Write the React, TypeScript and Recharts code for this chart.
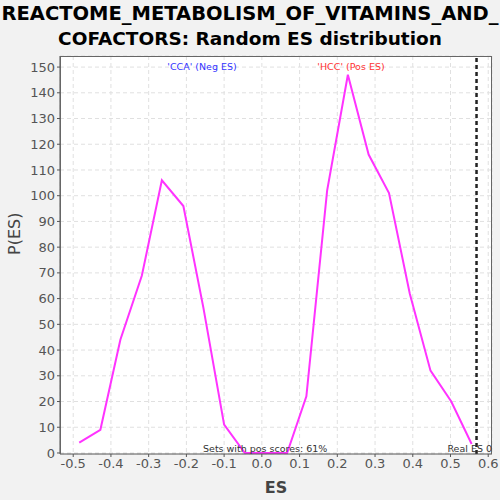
import React from "react";
import { LineChart, Line, XAxis, YAxis, CartesianGrid, ReferenceLine } from "recharts";

const esValues = [-0.484, -0.428, -0.375, -0.318, -0.265, -0.208, -0.155, -0.1, -0.045, 0.011, 0.067, 0.118, 0.173, 0.228, 0.283, 0.337, 0.392, 0.447, 0.502, 0.556];
const pValues = [4, 9, 44, 69, 106, 96, 56.5, 11, 0, 0, 0, 22, 102, 147, 116, 101, 62, 32, 20, 3.5];
const xTicks = [-0.5, -0.4, -0.3, -0.2, -0.1, 0.0, 0.1, 0.2, 0.3, 0.4, 0.5, 0.6];
const yTicks = [0, 10, 20, 30, 40, 50, 60, 70, 80, 90, 100, 110, 120, 130, 140, 150];
const realES = 0.569;
const titleLines = ["REACTOME_METABOLISM_OF_VITAMINS_AND_", "COFACTORS: Random ES distribution"];
const negLabel = "'CCA' (Neg ES)";
const posLabel = "'HCC' (Pos ES)";
const posScoresText = "Sets with pos scores: 61%";
const realESText = "Real ES 0";

const data = esValues.map((x, i) => ({ x, y: pValues[i] }));

const font = "'DejaVu Sans', Verdana, sans-serif";

export default function App() {
  return (
    <div style={{ position: "absolute", left: 0, top: 0, width: 500, height: 500, background: "#f2f2f2", fontFamily: font }}>
      <div style={{ position: "absolute", left: 0, top: 1, width: 500, textAlign: "center", fontWeight: "bold", fontSize: 19.5, lineHeight: "25px", color: "#000", whiteSpace: "nowrap" }}>
        {titleLines[0]}
        <br />
        <span style={{ fontSize: 18.5 }}>{titleLines[1]}</span>
      </div>
      <LineChart width={500} height={500} data={data} margin={{ top: 56, right: 8, left: 0, bottom: 0 }} style={{ position: "absolute", left: 0, top: 0 }}>
        <CartesianGrid stroke="#e0e0e0" strokeDasharray="4 3" fill="#ffffff" />
        <XAxis
          type="number"
          dataKey="x"
          domain={[-0.535, 0.61]}
          ticks={xTicks}
          tickFormatter={(v: number) => v.toFixed(1)}
          allowDataOverflow
          height={46}
          stroke="#555"
          tickSize={3}
          tick={{ fill: "#555", fontSize: 13, fontFamily: font }}
          label={{ value: "ES", position: "insideBottom", offset: 7, fill: "#444", fontSize: 16, fontWeight: "bold", fontFamily: font }}
        />
        <YAxis
          type="number"
          domain={[-0.4, 154.3]}
          ticks={yTicks}
          allowDataOverflow
          width={60}
          stroke="#555"
          tickSize={3}
          tick={{ fill: "#555", fontSize: 13, fontFamily: font }}
          label={{ value: "P(ES)", angle: -90, position: "insideLeft", offset: 14, fill: "#444", fontSize: 16, fontFamily: font }}
        />
        <ReferenceLine x={realES} stroke="#222" strokeWidth={2.5} strokeDasharray="4 3" />
        <Line type="linear" dataKey="y" stroke="#ff33ff" strokeWidth={2} dot={false} isAnimationActive={false} />
      </LineChart>
      <div style={{ position: "absolute", left: 60, top: 56, width: 432, height: 398, borderTop: "1px solid #666", borderRight: "1px solid #666", borderLeft: "1px solid #666", boxSizing: "border-box", pointerEvents: "none" }} />
      <div style={{ position: "absolute", left: 152, width: 100, top: 61, textAlign: "center", fontSize: 9.5, color: "#3333ff", whiteSpace: "nowrap" }}>{negLabel}</div>
      <div style={{ position: "absolute", left: 301, width: 100, top: 61, textAlign: "center", fontSize: 9.5, color: "#ff3333", whiteSpace: "nowrap" }}>{posLabel}</div>
      <div style={{ position: "absolute", left: 203, width: 120, top: 443, textAlign: "center", fontSize: 9.5, color: "#333", whiteSpace: "nowrap" }}>{posScoresText}</div>
      <div style={{ position: "absolute", left: 440, width: 52, top: 443, textAlign: "right", fontSize: 9.5, color: "#333", whiteSpace: "nowrap" }}>{realESText}</div>
    </div>
  );
}
